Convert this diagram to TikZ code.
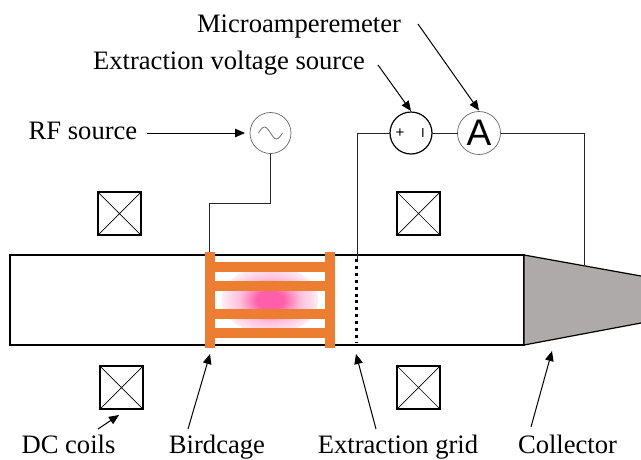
\documentclass[tikz,border=0pt]{standalone}
\usepackage{fontspec}
\setmainfont{Liberation Serif}
\setsansfont{Liberation Sans}
\usetikzlibrary{arrows.meta, positioning, calc}

\definecolor{cageorange}{RGB}{237,125,49}
\definecolor{collgray}{RGB}{174,170,170}
\definecolor{plasmapink}{RGB}{255,95,170}
\pgfdeclareradialshading{plasma}{\pgfpoint{0bp}{0bp}}{color(0bp)=(plasmapink); color(7bp)=(plasmapink); color(16bp)=(plasmapink!40!white); color(29bp)=(white); color(50bp)=(white)}

\begin{document}
\begin{tikzpicture}[
    x=1pt, y=-1pt,
    lbl/.style={font=\fontsize{26.6}{30}\selectfont, inner sep=0pt, anchor=base},
    coil/.style={draw, line width=1.1pt, minimum size=43pt, inner sep=0pt, outer sep=0pt,
                 path picture={\draw[line width=0.7pt]
                    (path picture bounding box.north west) -- (path picture bounding box.south east)
                    (path picture bounding box.north east) -- (path picture bounding box.south west);}},
    meter/.style={draw, circle, minimum size=41pt, inner sep=0pt, outer sep=0pt, fill=white},
    wire/.style={line width=1pt, black!85},
    arr/.style={-{Triangle[length=10pt, width=8.5pt]}, line width=1pt},
    bar/.style={fill=cageorange},
]
    \useasboundingbox (0,0) rectangle (641,459);

    %==================== plasma ====================
    \shade[shading=plasma] (270,300) ellipse [x radius=48, y radius=34];

    %==================== tube and collector ====================
    \node[draw, line width=1.2pt, minimum width=514pt, minimum height=90pt, inner sep=0pt,
          outer sep=0pt] (tube) at (267,300) {};
    \fill[collgray] (524,255) -- (641,276) -- (641,323) -- (524,345) -- cycle;
    \draw[line width=1.2pt] (641,276) -- (tube.north east) -- (tube.south east) -- (641,323);

    %==================== birdcage ====================
    \fill[bar] (205,262) rectangle (335,272);
    \fill[bar] (205,281) rectangle (335,291);
    \fill[bar] (205,309) rectangle (335,319);
    \fill[bar] (205,328) rectangle (335,338);
    \node[bar, minimum width=10pt, minimum height=96pt, inner sep=0pt] (ringl) at (210,300) {};
    \node[bar, minimum width=10pt, minimum height=96pt, inner sep=0pt] (ringr) at (330,300) {};

    %==================== grid ====================
    \coordinate (gridtop) at (356.5,259);
    \coordinate (gridbot) at (356.5,342);
    \draw[line width=3pt, dash pattern=on 3pt off 3.9pt] (gridtop) -- (gridbot);

    %==================== coils ====================
    \node[coil] (coilul) at (119.5,213.5) {};
    \node[coil] (coilur) at (418.5,213.5) {};
    \node[coil] (coilll) at (121.5,387.5) {};
    \node[coil] (coillr) at (418.5,387.5) {};

    %==================== sources ====================
    \node[meter, draw=black!60, line width=0.7pt] (rf) at (270.5,133) {};
    \draw[line width=0.7pt, black!60] (258.5,133) sin (264.5,127) cos (270.5,133) sin (276.5,139) cos (282.5,133);

    \node[meter, line width=1.2pt, minimum size=42pt] (volt) at (411,133) {};
    \node[font=\sffamily\fontsize{15}{15}\selectfont, inner sep=0pt] (plus) at (400,133.5) {+};
    \node[font=\sffamily\fontsize{13}{13}\selectfont, inner sep=0pt] (minus) at (423,133.5) {I};

    \node[meter, draw=black!60, line width=0.7pt, minimum size=43pt,
          font=\sffamily\fontsize{37}{37}\selectfont] (amp) at (479,133) {A};

    %==================== wires ====================
    \coordinate (cageA) at (270.5,203);
    \coordinate (cageB) at (209,203);
    \coordinate (gridA) at (357,133);
    \coordinate (collA) at (584,133);
    \coordinate (collB) at (584,266);
    \draw[wire] (rf.south) -- (cageA) -- (cageB) -- (cageB |- ringl.north);
    \draw[wire] (volt.west) -- (gridA) -- (gridtop -| gridA);
    \draw[wire] (volt.east) -- (amp.west);
    \draw[wire] (amp.east) -- (collA) -- (collB);

    %==================== labels ====================
    \node[lbl] (lamp) at (299,32) {Microamperemeter};
    \node[lbl] (lvolt) at (229,69) {Extraction voltage source};
    \node[lbl] (lrf) at (83,139) {RF source};
    \node[lbl] (lcoil) at (68.5,453) {DC coils};
    \node[lbl] (lcage) at (217,453) {Birdcage};
    \node[lbl] (lgrid) at (398,453) {Extraction grid};
    \node[lbl] (lcoll) at (567.5,453) {Collector};

    %==================== arrows ====================
    \coordinate (startrf) at (147,133);
    \coordinate (tipcoil) at (119,415);
    \coordinate (tipcage) at (210,354);
    \coordinate (tipgrid) at (356,354);
    \coordinate (tipcoll) at (552,351);
    \draw[arr] (418,24) -- ([yshift=1pt]amp.north);
    \draw[arr] (378,65) -- ([yshift=1pt]volt.north);
    \draw[arr, shorten >=5pt] (startrf) -- (rf.west);
    \draw[arr] (98,429) -- (tipcoil);
    \draw[arr] (188,429) -- (tipcage);
    \draw[arr] (376,429) -- (tipgrid);
    \draw[arr] (531,427) -- (tipcoll);

\end{tikzpicture}
\end{document}
